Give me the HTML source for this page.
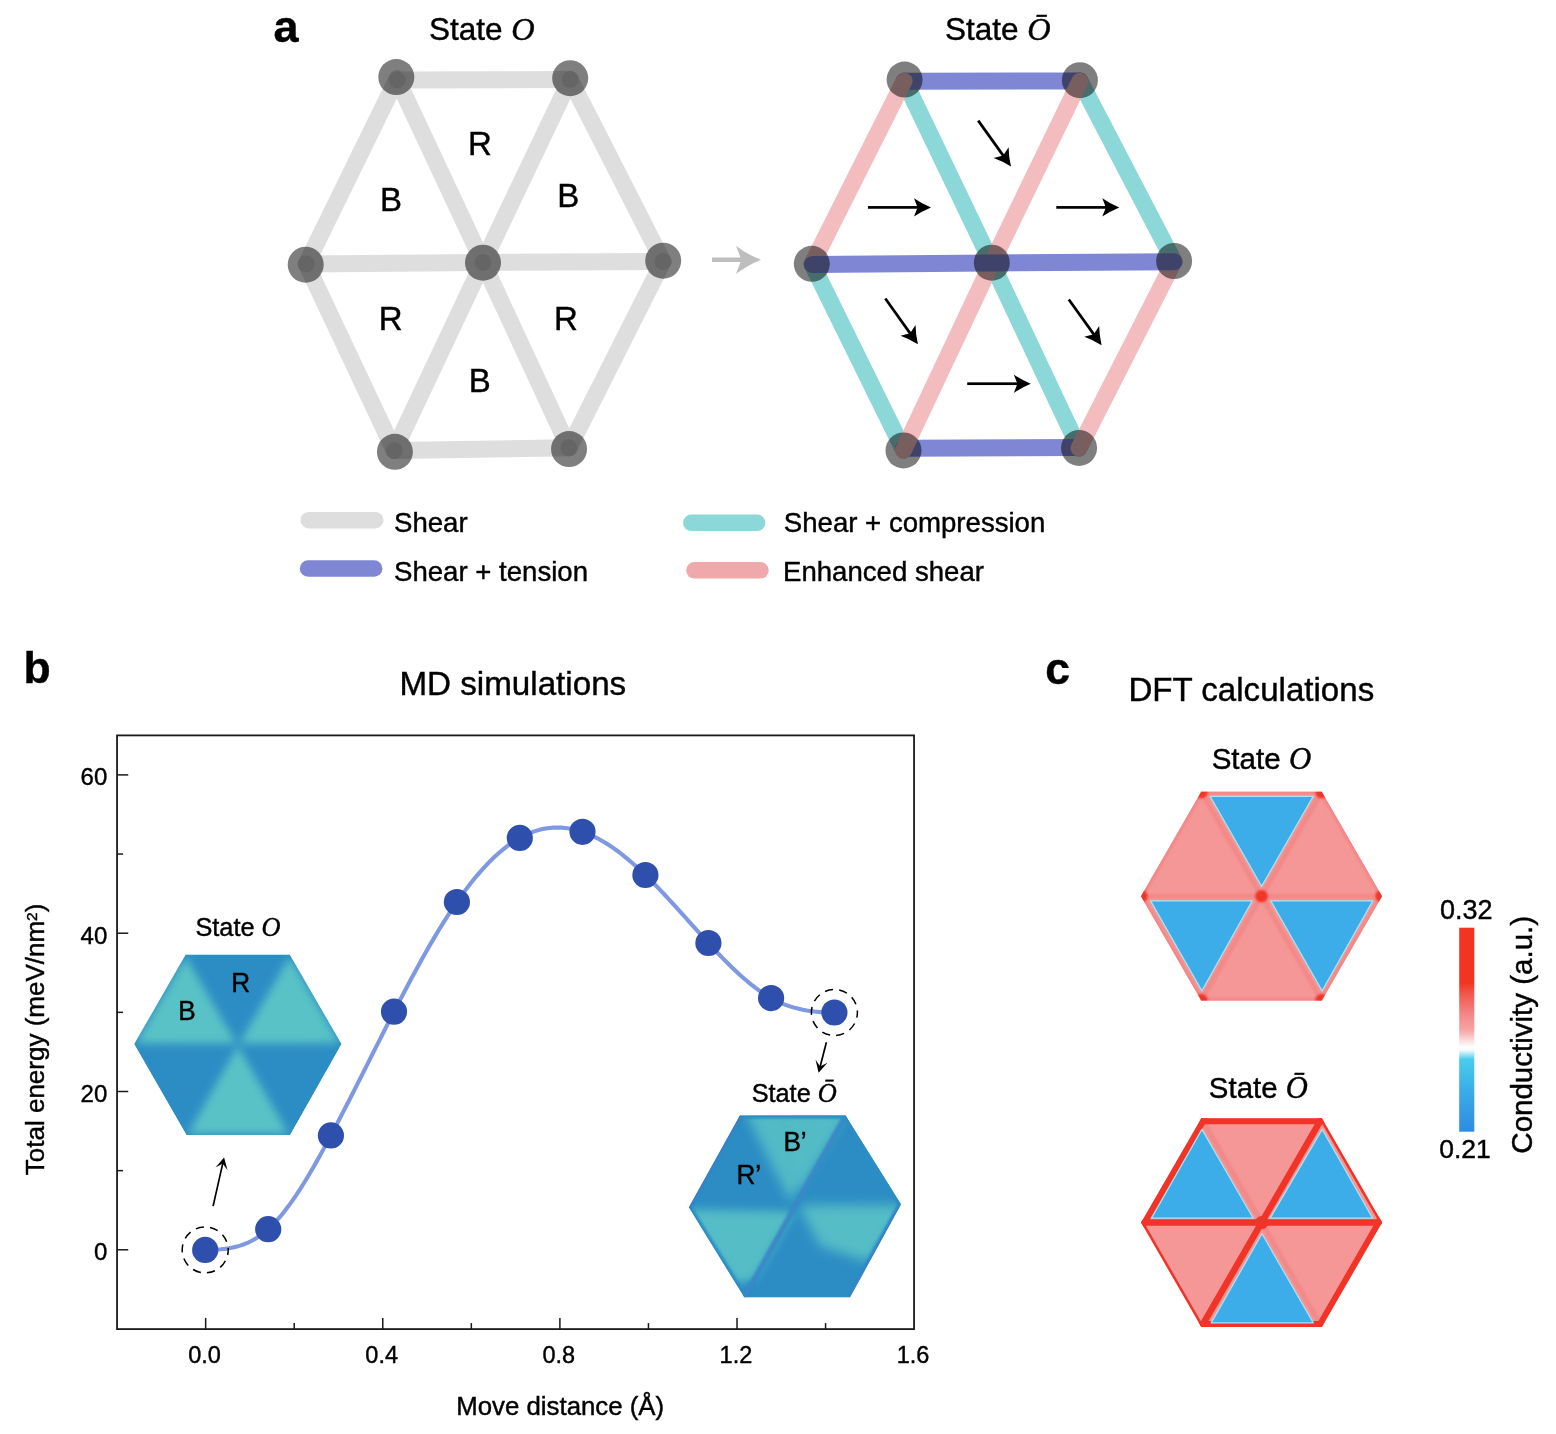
<!DOCTYPE html>
<html lang="en"><head><meta charset="utf-8"><title>Figure</title>
<style>
html,body{margin:0;padding:0;background:#fff}
svg{display:block}
text{font-family:"Liberation Sans", sans-serif;fill:#000;stroke:#000;stroke-width:0.42px}
.it{font-family:"Liberation Serif", serif;font-style:italic}
</style></head><body>
<svg width="1556" height="1434" viewBox="0 0 1556 1434">
<rect width="1556" height="1434" fill="#fff"/>
<g id="panel-a">
<text transform="translate(286.1 41.8) scale(1 1.0)" font-size="45" text-anchor="middle" font-weight="bold" stroke-width="0.1">a</text>
<text transform="translate(481.9 39.6) scale(1 1.0)" font-size="31.5" text-anchor="middle">State <tspan class="it" font-size="32.4" dx="0">O</tspan></text>
<text transform="translate(997.8 40.1) scale(1 1.0)" font-size="31.5" text-anchor="middle">State <tspan class="it" font-size="32.4" dx="0">Ō</tspan></text>
<g stroke="#dedede" stroke-width="17" stroke-linecap="round">
<line x1="397.2" y1="80" x2="570.2" y2="79.6"/>
<line x1="570.2" y1="79.6" x2="663" y2="261.5"/>
<line x1="663" y1="261.5" x2="569" y2="447.8"/>
<line x1="569" y1="447.8" x2="394.2" y2="450.5"/>
<line x1="394.2" y1="450.5" x2="306.3" y2="264"/>
<line x1="306.3" y1="264" x2="397" y2="78.8"/>
<line x1="483" y1="262.5" x2="397" y2="78.8"/>
<line x1="483" y1="262.5" x2="570.2" y2="79.6"/>
<line x1="483" y1="262.5" x2="663" y2="261.5"/>
<line x1="483" y1="262.5" x2="569" y2="447.8"/>
<line x1="483" y1="262.5" x2="394.2" y2="450.5"/>
<line x1="483" y1="262.5" x2="306.3" y2="264"/>
</g>
<circle cx="397.2" cy="80" r="8.5" fill="#000" fill-opacity="0.085"/>
<circle cx="570.2" cy="79.6" r="8.5" fill="#000" fill-opacity="0.085"/>
<circle cx="306.3" cy="264" r="8.5" fill="#000" fill-opacity="0.085"/>
<circle cx="483" cy="262.5" r="8.5" fill="#000" fill-opacity="0.085"/>
<circle cx="663" cy="261.5" r="8.5" fill="#000" fill-opacity="0.085"/>
<circle cx="394.2" cy="450.5" r="8.5" fill="#000" fill-opacity="0.085"/>
<circle cx="569" cy="447.8" r="8.5" fill="#000" fill-opacity="0.085"/>
<circle cx="396.3" cy="77.1" r="18" fill="#000" fill-opacity="0.5"/>
<circle cx="570.2" cy="78.2" r="18" fill="#000" fill-opacity="0.5"/>
<circle cx="305.7" cy="264.7" r="18" fill="#000" fill-opacity="0.5"/>
<circle cx="483" cy="262.7" r="18" fill="#000" fill-opacity="0.5"/>
<circle cx="663.2" cy="260.7" r="18" fill="#000" fill-opacity="0.5"/>
<circle cx="394.9" cy="451.8" r="18" fill="#000" fill-opacity="0.5"/>
<circle cx="569.05" cy="449.05" r="18" fill="#000" fill-opacity="0.5"/>
<text transform="translate(479.9 154.7) scale(1 1.035)" font-size="33" text-anchor="middle">R</text>
<text transform="translate(391 211) scale(1 1.035)" font-size="33" text-anchor="middle">B</text>
<text transform="translate(568.2 207.2) scale(1 1.035)" font-size="33" text-anchor="middle">B</text>
<text transform="translate(390.7 330.1) scale(1 1.035)" font-size="33" text-anchor="middle">R</text>
<text transform="translate(565.9 329.8) scale(1 1.035)" font-size="33" text-anchor="middle">R</text>
<text transform="translate(479.8 392.3) scale(1 1.035)" font-size="33" text-anchor="middle">B</text>
<path d="M712 257.5 L740.5 257.5 L736 245.7 Q746 254 761 259.7 Q746 266 736 274 L740.5 262 L712 262 Z" fill="#bebebe"/>
<g stroke-width="17" stroke-linecap="round">
<line x1="904.5" y1="81" x2="991.8" y2="263" stroke="#8cd8d8"/>
<line x1="991.8" y1="263" x2="1079" y2="448" stroke="#8cd8d8"/>
<line x1="1080" y1="81" x2="1174" y2="261.5" stroke="#8cd8d8"/>
<line x1="812" y1="264" x2="903.5" y2="450" stroke="#8cd8d8"/>
<line x1="904" y1="81.3" x2="1079.9" y2="80.9" stroke="#7f87d5"/>
<line x1="903.5" y1="448.2" x2="1079" y2="447.5" stroke="#7f87d5"/>
<line x1="812" y1="264" x2="904" y2="81" stroke="#f3bcbf"/>
<line x1="1079.9" y1="81.3" x2="991.8" y2="263" stroke="#f3bcbf"/>
<line x1="991.8" y1="263" x2="903.5" y2="450.2" stroke="#f3bcbf"/>
<line x1="1174" y1="261.5" x2="1079.05" y2="448.2" stroke="#f3bcbf"/>
<line x1="812.4" y1="264.4" x2="991.8" y2="263" stroke="#7f87d5"/>
<line x1="991.8" y1="263" x2="1174" y2="261.7" stroke="#7f87d5"/>
</g>
<circle cx="904.6" cy="79.6" r="18" fill="#000" fill-opacity="0.5"/>
<circle cx="1079.9" cy="80.2" r="18" fill="#000" fill-opacity="0.5"/>
<circle cx="811.8" cy="263.8" r="18" fill="#000" fill-opacity="0.5"/>
<circle cx="991.8" cy="262.7" r="18" fill="#000" fill-opacity="0.5"/>
<circle cx="1174.1" cy="261" r="18" fill="#000" fill-opacity="0.5"/>
<circle cx="903.5" cy="450.4" r="18" fill="#000" fill-opacity="0.5"/>
<circle cx="1079.05" cy="447.9" r="18" fill="#000" fill-opacity="0.5"/>
<g transform="translate(867.9 207.4) rotate(0)"><rect x="0" y="-1.35" width="50.7" height="2.7"/><path d="M63.1 0 Q53.75 -3.86 46.1 -9.2 L49.7 0 L46.1 9.2 Q53.75 3.86 63.1 0 Z"/></g>
<g transform="translate(1056.3 207.4) rotate(0)"><rect x="0" y="-1.35" width="50.6" height="2.7"/><path d="M63 0 Q53.65 -3.86 46 -9.2 L49.6 0 L46 9.2 Q53.65 3.86 63 0 Z"/></g>
<g transform="translate(967.2 383.7) rotate(0)"><rect x="0" y="-1.35" width="51.2" height="2.7"/><path d="M63.6 0 Q54.25 -3.86 46.6 -9.2 L50.2 0 L46.6 9.2 Q54.25 3.86 63.6 0 Z"/></g>
<g transform="translate(978.2 120.6) rotate(54.45)"><rect x="0" y="-1.35" width="44.01" height="2.7"/><path d="M56.41 0 Q47.06 -3.86 39.41 -9.2 L43.01 0 L39.41 9.2 Q47.06 3.86 56.41 0 Z"/></g>
<g transform="translate(885.3 298.5) rotate(54.5)"><rect x="0" y="-1.35" width="43.74" height="2.7"/><path d="M56.14 0 Q46.79 -3.86 39.14 -9.2 L42.74 0 L39.14 9.2 Q46.79 3.86 56.14 0 Z"/></g>
<g transform="translate(1068.8 299.5) rotate(54.33)"><rect x="0" y="-1.35" width="43.85" height="2.7"/><path d="M56.25 0 Q46.9 -3.86 39.25 -9.2 L42.85 0 L39.25 9.2 Q46.9 3.86 56.25 0 Z"/></g>
<rect x="300.5" y="511.9" width="83" height="16.6" rx="8.3" fill="#dedede"/>
<rect x="299.8" y="560.2" width="82.6" height="16.6" rx="8.3" fill="#7f87d5"/>
<rect x="683.1" y="514.5" width="82.3" height="16.6" rx="8.3" fill="#8cd8d8"/>
<rect x="686.2" y="562" width="82.5" height="16.6" rx="8.3" fill="#f0a9ab"/>
<text transform="translate(394 531.9) scale(1 1.0)" font-size="27.6" text-anchor="start">Shear</text>
<text transform="translate(394 581) scale(1 1.0)" font-size="27.6" text-anchor="start">Shear + tension</text>
<text transform="translate(783.8 531.9) scale(1 1.0)" font-size="27.6" text-anchor="start">Shear + compression</text>
<text transform="translate(783 581) scale(1 1.0)" font-size="27.6" text-anchor="start">Enhanced shear</text>
</g>
<g id="panel-b">
<text transform="translate(37 683.3) scale(1 1.0)" font-size="44.5" text-anchor="middle" font-weight="bold" stroke-width="0.1">b</text>
<text transform="translate(512.8 695.1) scale(1 1.0)" font-size="33.2" text-anchor="middle">MD simulations</text>
<defs><filter id="bl5" x="-30%" y="-30%" width="160%" height="160%"><feGaussianBlur stdDeviation="5"/></filter><filter id="bl4" x="-30%" y="-30%" width="160%" height="160%"><feGaussianBlur stdDeviation="4"/></filter><filter id="bl6" x="-30%" y="-30%" width="160%" height="160%"><feGaussianBlur stdDeviation="6"/></filter><filter id="bl3" x="-30%" y="-30%" width="160%" height="160%"><feGaussianBlur stdDeviation="3"/></filter><filter id="bl1" x="-30%" y="-30%" width="160%" height="160%"><feGaussianBlur stdDeviation="1"/></filter></defs>
<clipPath id="hx1"><polygon points="134.1,1044.1 185.6,954.6 289.8,954.6 341.6,1044.1 290.2,1134.9 186.4,1134.9"/></clipPath>
<g clip-path="url(#hx1)"><polygon points="134.1,1044.1 185.6,954.6 289.8,954.6 341.6,1044.1 290.2,1134.9 186.4,1134.9" fill="#2c8dc4"/>
<g filter="url(#bl4)" fill="#59c2c6">
<polygon points="236.24,1043.4 135.65,1043.21 185.61,956.39"/>
<polygon points="239.36,1043.4 289.8,956.39 340.04,1043.21"/>
<polygon points="237.81,1046.11 288.64,1133.99 187.95,1133.99"/>
</g></g>
<clipPath id="hx2"><polygon points="688.9,1207.2 739.9,1115.6 845.6,1115.6 901,1204.3 850,1297.3 744.3,1297.3"/></clipPath>
<g clip-path="url(#hx2)"><polygon points="688.9,1207.2 739.9,1115.6 845.6,1115.6 901,1204.3 850,1297.3 744.3,1297.3" fill="#2c8dc4"/>
<g fill="#55bdc6">
<polygon filter="url(#bl6)" opacity="0.95" points="790.5,1202.5 742.9,1107.6 849.6,1107.6"/>
<polygon filter="url(#bl3)" opacity="0.6" points="798.5,1190.5 787.47,1111.6 847.6,1111.6"/>
<polygon filter="url(#bl5)" points="794.5,1211.5 680.9,1209.2 735.99,1283.78 754.74,1278.74"/>
<polygon filter="url(#bl6)" points="798.5,1205.5 909,1205.3 869.38,1261.96 820.58,1246.26"/>
</g>
<polygon points="688.9,1207.2 739.9,1115.6 845.6,1115.6 901,1204.3 850,1297.3 744.3,1297.3" fill="none" stroke="#2c8dc4" stroke-width="6" filter="url(#bl1)"/>
<line x1="845.6" y1="1115.6" x2="744.3" y2="1297.3" stroke="#2c8ac4" stroke-width="4.5" filter="url(#bl1)"/>
<line x1="845.6" y1="1115.6" x2="744.3" y2="1297.3" stroke="#6a7fd6" stroke-width="1.3" filter="url(#bl1)" opacity="0.8"/>
<line x1="688.9" y1="1207.2" x2="739.9" y2="1115.6" stroke="#4f6fd0" stroke-width="3" filter="url(#bl1)" opacity="0.6"/>
<line x1="901" y1="1204.3" x2="850" y2="1297.3" stroke="#4f6fd0" stroke-width="3" filter="url(#bl1)" opacity="0.6"/>
</g>
<rect x="117.05" y="735.4" width="797" height="593.7" fill="none" stroke="#1a1a1a" stroke-width="1.8"/>
<g stroke="#1a1a1a" stroke-width="1.5">
<line x1="117.05" y1="1249.8" x2="128.25" y2="1249.8"/>
<line x1="117.05" y1="1091.5" x2="128.25" y2="1091.5"/>
<line x1="117.05" y1="933.2" x2="128.25" y2="933.2"/>
<line x1="117.05" y1="774.9" x2="128.25" y2="774.9"/>
<line x1="117.05" y1="1170.65" x2="123.05" y2="1170.65"/>
<line x1="117.05" y1="1012.35" x2="123.05" y2="1012.35"/>
<line x1="117.05" y1="854.05" x2="123.05" y2="854.05"/>
<line x1="205.65" y1="1329.1" x2="205.65" y2="1317.9"/>
<line x1="382.77" y1="1329.1" x2="382.77" y2="1317.9"/>
<line x1="559.89" y1="1329.1" x2="559.89" y2="1317.9"/>
<line x1="737.01" y1="1329.1" x2="737.01" y2="1317.9"/>
<line x1="294.21" y1="1329.1" x2="294.21" y2="1323.1"/>
<line x1="471.33" y1="1329.1" x2="471.33" y2="1323.1"/>
<line x1="648.45" y1="1329.1" x2="648.45" y2="1323.1"/>
<line x1="825.57" y1="1329.1" x2="825.57" y2="1323.1"/>
</g>
<text transform="translate(107.3 1260.2) scale(1 1.0)" font-size="24" text-anchor="end">0</text>
<text transform="translate(107.3 1101.9) scale(1 1.0)" font-size="24" text-anchor="end">20</text>
<text transform="translate(107.3 943.6) scale(1 1.0)" font-size="24" text-anchor="end">40</text>
<text transform="translate(107.3 785.3) scale(1 1.0)" font-size="24" text-anchor="end">60</text>
<text transform="translate(204.55 1363) scale(1 1.0)" font-size="23.5" text-anchor="middle">0.0</text>
<text transform="translate(381.67 1363) scale(1 1.0)" font-size="23.5" text-anchor="middle">0.4</text>
<text transform="translate(558.79 1363) scale(1 1.0)" font-size="23.5" text-anchor="middle">0.8</text>
<text transform="translate(735.91 1363) scale(1 1.0)" font-size="23.5" text-anchor="middle">1.2</text>
<text transform="translate(913.03 1363) scale(1 1.0)" font-size="23.5" text-anchor="middle">1.6</text>
<text transform="translate(560.2 1414.6) scale(1 1.0)" font-size="25.8" text-anchor="middle">Move distance (Å)</text>
<text transform="translate(43.9 1039.4) rotate(-90) scale(1 1.0)" font-size="26" text-anchor="middle">Total energy (meV/nm<tspan font-size="15.5" dy="-7.3">2</tspan><tspan dy="7.3">)</tspan></text>
<path d="M205.2 1249.9 L209.16 1249.87 L213.11 1249.78 L217.07 1249.6 L221.03 1249.31 L224.99 1248.89 L228.94 1248.31 L232.9 1247.55 L236.86 1246.59 L240.82 1245.4 L244.77 1243.97 L248.73 1242.27 L252.69 1240.27 L256.64 1237.96 L260.6 1235.32 L264.56 1232.31 L268.52 1228.91 L272.47 1225.13 L276.43 1220.95 L280.39 1216.42 L284.34 1211.55 L288.3 1206.35 L292.26 1200.85 L296.22 1195.07 L300.17 1189.02 L304.13 1182.74 L308.09 1176.23 L312.05 1169.52 L316 1162.63 L319.96 1155.57 L323.92 1148.38 L327.87 1141.06 L331.83 1133.65 L335.79 1126.14 L339.75 1118.57 L343.7 1110.92 L347.66 1103.22 L351.62 1095.47 L355.57 1087.68 L359.53 1079.86 L363.49 1072.01 L367.45 1064.15 L371.4 1056.28 L375.36 1048.42 L379.32 1040.57 L383.28 1032.74 L387.23 1024.94 L391.19 1017.18 L395.15 1009.47 L399.1 1001.81 L403.06 994.22 L407.02 986.7 L410.98 979.26 L414.93 971.92 L418.89 964.67 L422.85 957.54 L426.81 950.52 L430.76 943.63 L434.72 936.88 L438.68 930.28 L442.63 923.83 L446.59 917.54 L450.55 911.43 L454.51 905.5 L458.46 899.76 L462.42 894.21 L466.38 888.87 L470.33 883.73 L474.29 878.8 L478.25 874.08 L482.21 869.57 L486.16 865.27 L490.12 861.19 L494.08 857.34 L498.04 853.71 L501.99 850.31 L505.95 847.14 L509.91 844.2 L513.86 841.5 L517.82 839.04 L521.78 836.82 L525.74 834.85 L529.69 833.11 L533.65 831.62 L537.61 830.36 L541.56 829.33 L545.52 828.53 L549.48 827.96 L553.44 827.62 L557.39 827.5 L561.35 827.61 L565.31 827.93 L569.27 828.46 L573.22 829.22 L577.18 830.18 L581.14 831.35 L585.09 832.73 L589.05 834.3 L593.01 836.08 L596.97 838.04 L600.92 840.19 L604.88 842.51 L608.84 845 L612.79 847.66 L616.75 850.47 L620.71 853.44 L624.67 856.55 L628.62 859.8 L632.58 863.19 L636.54 866.7 L640.5 870.34 L644.45 874.09 L648.41 877.94 L652.37 881.9 L656.32 885.95 L660.28 890.07 L664.24 894.27 L668.2 898.53 L672.15 902.84 L676.11 907.19 L680.07 911.57 L684.03 915.98 L687.98 920.39 L691.94 924.81 L695.9 929.22 L699.85 933.62 L703.81 937.98 L707.77 942.31 L711.73 946.6 L715.68 950.82 L719.64 954.98 L723.6 959.06 L727.55 963.05 L731.51 966.95 L735.47 970.73 L739.43 974.39 L743.38 977.92 L747.34 981.31 L751.3 984.55 L755.26 987.63 L759.21 990.53 L763.17 993.25 L767.13 995.77 L771.08 998.09 L775.04 1000.2 L779 1002.1 L782.96 1003.8 L786.91 1005.32 L790.87 1006.66 L794.83 1007.84 L798.78 1008.85 L802.74 1009.72 L806.7 1010.45 L810.66 1011.05 L814.61 1011.54 L818.57 1011.91 L822.53 1012.18 L826.49 1012.36 L830.44 1012.47 L834.4 1012.5" fill="none" stroke="#7e98e2" stroke-width="4.1" stroke-linejoin="round"/>
<circle cx="205.2" cy="1249.9" r="13.1" fill="#2e4fab"/>
<circle cx="268.2" cy="1229.2" r="13.1" fill="#2e4fab"/>
<circle cx="330.9" cy="1135.4" r="13.1" fill="#2e4fab"/>
<circle cx="394" cy="1011.7" r="13.1" fill="#2e4fab"/>
<circle cx="456.9" cy="902" r="13.1" fill="#2e4fab"/>
<circle cx="519.8" cy="837.9" r="13.1" fill="#2e4fab"/>
<circle cx="582.5" cy="831.8" r="13.1" fill="#2e4fab"/>
<circle cx="645.4" cy="875" r="13.1" fill="#2e4fab"/>
<circle cx="708.4" cy="943" r="13.1" fill="#2e4fab"/>
<circle cx="771.1" cy="998.1" r="13.1" fill="#2e4fab"/>
<circle cx="834.4" cy="1012.5" r="13.1" fill="#2e4fab"/>
<circle cx="205.2" cy="1249.9" r="23" fill="none" stroke="#000" stroke-width="1.5" stroke-dasharray="8.2 6.25" stroke-dashoffset="3"/>
<circle cx="834.4" cy="1012.5" r="23" fill="none" stroke="#000" stroke-width="1.5" stroke-dasharray="8.2 6.25" stroke-dashoffset="3"/>
<line x1="213.1" y1="1206.1" x2="223.44" y2="1160.33" stroke="#000" stroke-width="1.7"/>
<polygon points="224.1,1157.4 227.49,1170.26 222.71,1163.55 215.51,1167.55" fill="#000"/>
<line x1="826.4" y1="1042.2" x2="819.34" y2="1069.79" stroke="#000" stroke-width="1.7"/>
<polygon points="818.6,1072.7 815.57,1059.75 820.16,1066.6 827.47,1062.79" fill="#000"/>
<text transform="translate(238 936.1) scale(1 1.0)" font-size="25.3" text-anchor="middle">State <tspan class="it" font-size="26.31" dx="0">O</tspan></text>
<text transform="translate(794.2 1101.8) scale(1 1.0)" font-size="25.3" text-anchor="middle">State <tspan class="it" font-size="26.31" dx="0">Ō</tspan></text>
<text transform="translate(240.7 992.2) scale(1 1.035)" font-size="26.2" text-anchor="middle">R</text>
<text transform="translate(187 1020.1) scale(1 1.035)" font-size="26.2" text-anchor="middle">B</text>
<text transform="translate(783.4 1150.7) scale(1 1.035)" font-size="26.2" text-anchor="start">B’</text>
<text transform="translate(736.4 1184.1) scale(1 1.035)" font-size="26.2" text-anchor="start">R’</text>
</g>
<g id="panel-c">
<text transform="translate(1057.7 683.5) scale(1 1.0)" font-size="44.5" text-anchor="middle" font-weight="bold" stroke-width="0.1">c</text>
<text transform="translate(1251.3 700.6) scale(1 1.0)" font-size="33.1" text-anchor="middle">DFT calculations</text>
<defs><filter id="cb1" x="-10%" y="-10%" width="120%" height="120%"><feGaussianBlur stdDeviation="0.8"/></filter></defs>
<clipPath id="hc1"><polygon points="1141,896.2 1201.25,791.84 1321.75,791.84 1382,896.2 1321.75,1000.56 1201.25,1000.56"/></clipPath>
<polygon points="1141,896.2 1201.25,791.84 1321.75,791.84 1382,896.2 1321.75,1000.56 1201.25,1000.56" fill="#f59797"/>
<g clip-path="url(#hc1)"><g stroke="#f38888" stroke-width="5" fill="none" filter="url(#cb1)">
<polygon points="1141,896.2 1201.25,791.84 1321.75,791.84 1382,896.2 1321.75,1000.56 1201.25,1000.56" stroke-width="6"/>
<line x1="1141" y1="896.2" x2="1382" y2="896.2"/>
<line x1="1201.25" y1="791.84" x2="1321.75" y2="1000.56"/>
<line x1="1321.75" y1="791.84" x2="1201.25" y2="1000.56"/>
</g></g>
<g fill="#3cade8" stroke="#a8e4f3" stroke-width="1.2" stroke-linejoin="round">
<polygon points="1210.2,796.4 1313.2,796.4 1261.6,886.4"/>
<polygon points="1150.6,900.9 1252.2,900.9 1201.9,990.9"/>
<polygon points="1270.8,900.9 1372.8,900.9 1322.1,990.9"/>
</g>
<g clip-path="url(#hc1)"><g fill="#f13427" filter="url(#cb1)">
<circle cx="1261.5" cy="896.2" r="6.2"/>
<circle cx="1141" cy="896.2" r="6.5"/>
<circle cx="1201.25" cy="791.84" r="6.5"/>
<circle cx="1321.75" cy="791.84" r="6.5"/>
<circle cx="1382" cy="896.2" r="6.5"/>
<circle cx="1321.75" cy="1000.56" r="6.5"/>
<circle cx="1201.25" cy="1000.56" r="6.5"/>
</g></g>
<text transform="translate(1261.4 769.4) scale(1 1.0)" font-size="29.6" text-anchor="middle">State <tspan class="it" font-size="30.78" dx="0">O</tspan></text>
<clipPath id="hc2"><polygon points="1141.1,1222.6 1201.35,1118.24 1321.85,1118.24 1382.1,1222.6 1321.85,1326.96 1201.35,1326.96"/></clipPath>
<g clip-path="url(#hc2)">
<polygon points="1141.1,1222.6 1201.35,1118.24 1321.85,1118.24 1382.1,1222.6 1321.85,1326.96 1201.35,1326.96" fill="#f59797"/>
<line x1="1201.35" y1="1118.24" x2="1321.85" y2="1326.96" stroke="#f38888" stroke-width="5" filter="url(#cb1)"/>
<g stroke="#f13427" fill="none" stroke-linecap="round">
<line x1="1201.35" y1="1118.24" x2="1321.85" y2="1118.24" stroke-width="12"/>
<line x1="1201.35" y1="1326.96" x2="1321.85" y2="1326.96" stroke-width="12"/>
<line x1="1141.1" y1="1222.6" x2="1201.35" y2="1118.24" stroke-width="12"/>
<line x1="1382.1" y1="1222.6" x2="1321.85" y2="1326.96" stroke-width="12"/>
<line x1="1321.85" y1="1118.24" x2="1382.1" y2="1222.6" stroke-width="5"/>
<line x1="1141.1" y1="1222.6" x2="1201.35" y2="1326.96" stroke-width="5"/>
<line x1="1141.1" y1="1222.6" x2="1382.1" y2="1222.6" stroke-width="6.5"/>
<line x1="1321.85" y1="1118.24" x2="1201.35" y2="1326.96" stroke-width="6.5"/>
</g>
<circle cx="1261.6" cy="1222.6" r="6.5" fill="#f13427"/>
</g>
<g fill="#3cade8" stroke="#a8e4f3" stroke-width="1.2" stroke-linejoin="round">
<polygon points="1201.9,1129.4 1151.5,1218.2 1253.2,1218.2"/>
<polygon points="1322.2,1129.4 1270.2,1218.2 1372.6,1218.2"/>
<polygon points="1262,1233.8 1211.2,1322.9 1313.3,1322.9"/>
</g>
<text transform="translate(1258.3 1098) scale(1 1.0)" font-size="29.4" text-anchor="middle">State <tspan class="it" font-size="30.58" dx="0">Ō</tspan></text>
<defs><linearGradient id="cbar" x1="0" y1="0" x2="0" y2="1"><stop offset="0" stop-color="#f13521"/><stop offset="0.27" stop-color="#f13521"/><stop offset="0.33" stop-color="#f25a50"/><stop offset="0.43" stop-color="#f48989"/><stop offset="0.50" stop-color="#f6a3a3"/><stop offset="0.585" stop-color="#ffffff"/><stop offset="0.60" stop-color="#f4fbfe"/><stop offset="0.645" stop-color="#48cdee"/><stop offset="0.80" stop-color="#3bace8"/><stop offset="1" stop-color="#2f8be0"/></linearGradient></defs>
<rect x="1459.2" y="927.7" width="15.1" height="204" fill="url(#cbar)"/>
<text transform="translate(1466.3 919.3) scale(1 1.0)" font-size="27" text-anchor="middle">0.32</text>
<text transform="translate(1465 1158.2) scale(1 1.0)" font-size="26.5" text-anchor="middle">0.21</text>
<text transform="translate(1531.5 1034.8) rotate(-90) scale(1 1.0)" font-size="29.5" text-anchor="middle">Conductivity (a.u.)</text>
</g>
</svg>
</body></html>
